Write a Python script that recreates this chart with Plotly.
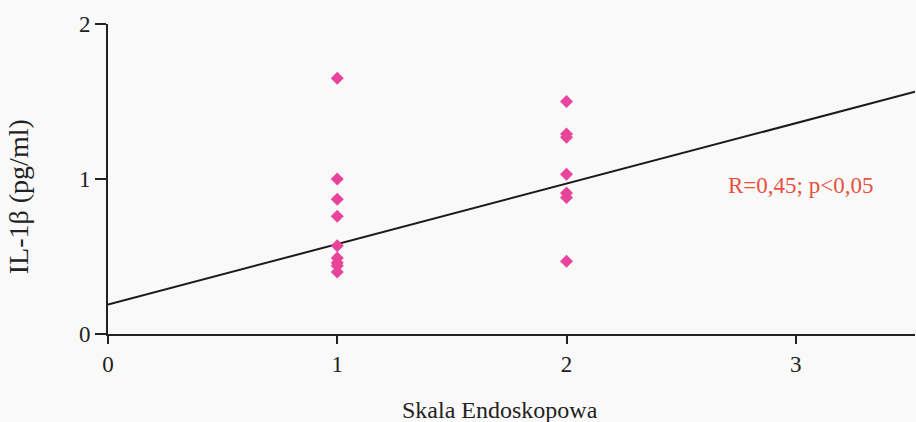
import plotly.graph_objects as go

x_group1 = [1, 1, 1, 1, 1, 1, 1, 1, 1]
y_group1 = [1.65, 1.00, 0.87, 0.76, 0.57, 0.49, 0.46, 0.44, 0.40]
x_group2 = [2, 2, 2, 2, 2, 2, 2]
y_group2 = [1.50, 1.29, 1.27, 1.03, 0.91, 0.88, 0.47]
line_x = [0, 3.52]
intercept = 0.19
slope = 0.39
line_y = [intercept + slope * v for v in line_x]
x_ticks = [0, 1, 2, 3]
y_ticks = [0, 1, 2]
annotation_text = "R=0,45; p<0,05"
x_title = "Skala Endoskopowa"
y_title = "IL-1β (pg/ml)"

font_family = "Liberation Serif, Times New Roman, serif"

fig = go.Figure()
fig.add_trace(go.Scatter(x=line_x, y=line_y, mode="lines",
                         line=dict(color="#1a1a1a", width=2), showlegend=False,
                         cliponaxis=False))
fig.add_trace(go.Scatter(x=x_group1 + x_group2, y=y_group1 + y_group2, mode="markers",
                         marker=dict(symbol="diamond", size=10, color="#e8449b"),
                         showlegend=False))

fig.add_annotation(x=3.02, y=0.96, text=annotation_text, showarrow=False,
                   font=dict(family=font_family, size=23, color="#e8503f"))
fig.add_annotation(xref="paper", yref="paper", x=0.486, y=-0.245,
                   xanchor="center", yanchor="middle", text=x_title, showarrow=False,
                   font=dict(family=font_family, size=24, color="#222222"))
fig.add_annotation(xref="paper", yref="paper", x=-0.110, y=0.442,
                   xanchor="center", yanchor="middle", text=y_title, showarrow=False,
                   textangle=-90,
                   font=dict(family=font_family, size=28, color="#222222"))

fig.update_layout(
    width=916, height=422,
    margin=dict(l=108, r=1, t=24, b=88),
    paper_bgcolor="#f9f9f9", plot_bgcolor="#f9f9f9",
    font=dict(family=font_family, size=22, color="#222222"),
)
fig.update_xaxes(range=[0, 3.52], tickvals=x_ticks, showgrid=False, zeroline=False,
                 showline=True, linecolor="#222222", linewidth=2,
                 ticks="outside", ticklen=8, tickwidth=2, tickcolor="#222222",
                 tickfont=dict(size=23))
fig.update_yaxes(range=[0, 2], tickvals=y_ticks, showgrid=False, zeroline=False,
                 showline=True, linecolor="#222222", linewidth=2,
                 ticks="outside", ticklen=11, tickwidth=2, tickcolor="#222222",
                 tickfont=dict(size=23))

fig.write_html("out.html", config={"displayModeBar": False},
               post_script="document.body.style.margin='0';")
